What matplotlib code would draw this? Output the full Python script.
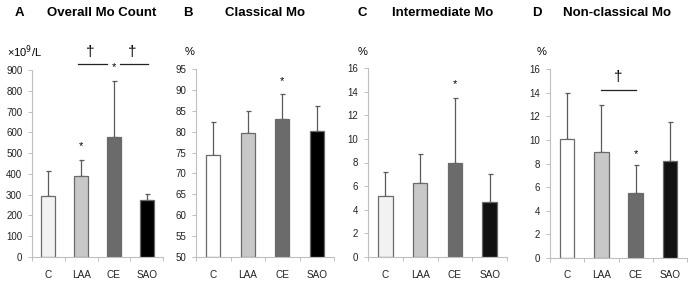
import matplotlib
matplotlib.use("Agg")
import matplotlib.pyplot as plt
import numpy as np

plt.rcParams['font.family'] = ['Liberation Sans', 'DejaVu Sans']

categories = ["C", "LAA", "CE", "SAO"]

titles = ["Overall Mo Count", "Classical Mo", "Intermediate Mo", "Non-classical Mo"]
letters = ["A", "B", "C", "D"]
units = ["×10$^9$/L", "%", "%", "%"]

overall_mean = [293, 390, 577, 273]
overall_sd = [120, 75, 270, 30]
classical_mean = [74.3, 79.8, 83.0, 80.2]
classical_sd = [8.0, 5.1, 6.0, 6.0]
intermediate_mean = [5.2, 6.25, 7.95, 4.65]
intermediate_sd = [2.0, 2.5, 5.55, 2.35]
nonclassical_mean = [10.1, 8.95, 5.5, 8.2]
nonclassical_sd = [3.85, 4.0, 2.35, 3.3]

ylims = [(0, 900), (50, 95), (0, 16), (0, 16)]
ysteps = [100, 5, 2, 2]

colors_sets = [
    ["#f2f2f2", "#c8c8c8", "#6b6b6b", "#000000"],
    ["#ffffff", "#c8c8c8", "#6b6b6b", "#000000"],
    ["#f2f2f2", "#c8c8c8", "#6b6b6b", "#111111"],
    ["#ffffff", "#c8c8c8", "#6b6b6b", "#111111"],
]

means = [overall_mean, classical_mean, intermediate_mean, nonclassical_mean]
sds = [overall_sd, classical_sd, intermediate_sd, nonclassical_sd]

W, H = 694, 284
fig = plt.figure(figsize=(W / 100, H / 100), dpi=100)

# axes pixel boxes (x0, x1, ytop, ybottom)
boxes = [(32, 163, 70, 257), (196, 334, 69, 257), (368, 507, 68, 257), (550, 687, 69, 258)]
letter_x = [15, 183, 357, 532]
title_x = [47, 225, 392, 563]
unit_x = [7, 185, 358, 537]

axes = []
for i in range(4):
    x0, x1, yt, yb = boxes[i]
    ax = fig.add_axes([x0 / W, 1 - yb / H, (x1 - x0) / W, (yb - yt) / H])
    axes.append(ax)
    xs = list(range(len(categories)))
    lo = ylims[i][0]
    ax.bar(xs, [m - lo for m in means[i]], bottom=lo, width=0.42,
           color=colors_sets[i], edgecolor="#6a6a6a", linewidth=0.9, zorder=2)
    ax.errorbar(xs, means[i], yerr=[[0] * 4, sds[i]], fmt="none",
                ecolor="#5a5a5a", elinewidth=0.9, capsize=1.8, capthick=0.9, zorder=1)
    ax.set_xlim(-0.5, 3.5)
    ax.set_ylim(*ylims[i])
    ax.set_yticks(np.arange(ylims[i][0], ylims[i][1] + ysteps[i] / 2, ysteps[i]))
    ax.set_xticks([-0.5, 0.5, 1.5, 2.5, 3.5])
    ax.set_xticklabels([])
    ax.set_xticks(xs, minor=True)
    ax.set_xticklabels(categories, minor=True)
    ax.tick_params(axis="x", which="minor", length=0, pad=9, labelsize=7.2, colors="#222222")
    ax.tick_params(axis="x", which="major", length=3, width=0.7, color="#bfbfbf", direction="out")
    ax.tick_params(axis="y", length=3, width=0.7, color="#bfbfbf", labelsize=7, pad=4, labelcolor="#222222")
    for s in ["top", "right"]:
        ax.spines[s].set_visible(False)
    for s in ["left", "bottom"]:
        ax.spines[s].set_color("#bfbfbf")
        ax.spines[s].set_linewidth(0.8)
    fig.text(letter_x[i] / W, 1 - 13 / H, letters[i], fontsize=9.5, fontweight="bold",
             ha="left", va="center")
    fig.text(title_x[i] / W, 1 - 13 / H, titles[i], fontsize=9.5, fontweight="bold",
             ha="left", va="center")
    fig.text(unit_x[i] / W, 1 - 52 / H, units[i], fontsize=8, ha="left", va="center")

# significance annotations
axA, axB, axC, axD = axes
axA.text(1, 535, "*", ha="center", va="center", fontsize=8)
axA.plot([0.9, 1.79], [931, 931], color="#222222", lw=0.9, clip_on=False)
axA.plot([2.19, 3.04], [931, 931], color="#222222", lw=0.9, clip_on=False)
axA.text(2.0, 915, "*", ha="center", va="center", fontsize=8, clip_on=False)
axA.text(1.27, 988, "†", ha="center", va="center", fontsize=11, clip_on=False)
axA.text(2.55, 988, "†", ha="center", va="center", fontsize=11, clip_on=False)

axB.text(2, 92, "*", ha="center", va="center", fontsize=8)
axC.text(2, 14.6, "*", ha="center", va="center", fontsize=8)
axD.text(2, 8.8, "*", ha="center", va="center", fontsize=8)
axD.plot([1, 2], [14.25, 14.25], color="#222222", lw=0.9)
axD.text(1.5, 15.3, "†", ha="center", va="center", fontsize=11, clip_on=False)

fig.savefig("out.png", dpi=100)
